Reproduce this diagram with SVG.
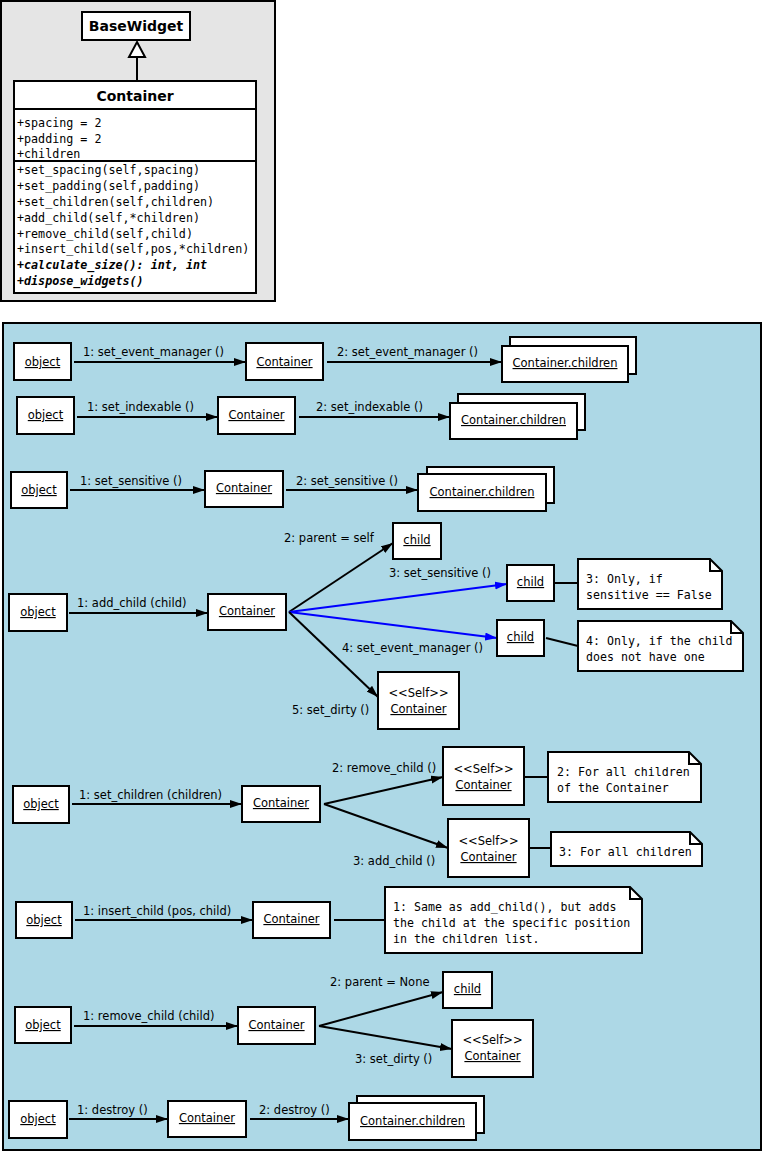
<svg xmlns="http://www.w3.org/2000/svg" width="763" height="1152" viewBox="0 0 763 1152">
<style>
.box{fill:#fff;stroke:#000;stroke-width:2}
.nm{font-family:"DejaVu Sans",sans-serif;font-size:11.5px;text-anchor:middle;fill:#000}
.u{text-decoration:underline}
.lbl{font-family:"DejaVu Sans",sans-serif;font-size:11.5px;fill:#000}
.mono{font-family:"DejaVu Sans Mono",monospace;font-size:11.6px;fill:#000}
.cls{font-family:"DejaVu Sans Mono",monospace;font-size:11.7px;fill:#000}
.bi{font-weight:bold;font-style:italic}
.title{font-family:"DejaVu Sans",sans-serif;font-size:14px;font-weight:bold;text-anchor:middle}
.ln{stroke:#000;stroke-width:2;fill:none}
.arr{stroke:#000;stroke-width:2;fill:none;marker-end:url(#ah)}
.barr{stroke:#0000ff;stroke-width:2;fill:none;marker-end:url(#bh)}
</style>
<defs>
<marker id="ah" markerUnits="userSpaceOnUse" markerWidth="13" markerHeight="9" refX="12" refY="4" orient="auto"><path d="M0,0 L12,4 L0,8 z" fill="#000"/></marker>
<marker id="bh" markerUnits="userSpaceOnUse" markerWidth="13" markerHeight="9" refX="12" refY="4" orient="auto"><path d="M0,0 L12,4 L0,8 z" fill="#0000ff"/></marker>
</defs>

<!-- class diagram panel -->
<rect x="1" y="1" width="274" height="300" fill="#e5e5e5" stroke="#000" stroke-width="2"/>
<g id="basewidget">
<rect class="box" x="82" y="12" width="108" height="28"/>
<text class="title" x="136" y="31">BaseWidget</text>
</g>
<g id="container-class">
<rect class="box" x="14" y="81" width="242" height="212"/>
<line class="ln" x1="14" y1="109" x2="256" y2="109"/>
<line class="ln" x1="14" y1="161" x2="256" y2="161"/>
<text class="title" x="135" y="101">Container</text>
<text class="cls" x="17" y="127">+spacing = 2</text>
<text class="cls" x="17" y="143">+padding = 2</text>
<text class="cls" x="17" y="158">+children</text>
<text class="cls" x="17" y="174">+set_spacing(self,spacing)</text>
<text class="cls" x="17" y="190">+set_padding(self,padding)</text>
<text class="cls" x="17" y="206">+set_children(self,children)</text>
<text class="cls" x="17" y="222">+add_child(self,*children)</text>
<text class="cls" x="17" y="238">+remove_child(self,child)</text>
<text class="cls" x="17" y="253">+insert_child(self,pos,*children)</text>
<text class="cls bi" x="17" y="269">+calculate_size(): int, int</text>
<text class="cls bi" x="17" y="285">+dispose_widgets()</text>
</g>
<g id="inheritance">
<line class="ln" x1="137" y1="57" x2="137" y2="81"/>
<path d="M137,42 L145,57 L129,57 z" fill="#fff" stroke="#000" stroke-width="2"/>
</g>

<!-- collaboration panel -->
<rect x="3" y="323" width="758" height="827" fill="#add8e6" stroke="#000" stroke-width="2"/>

<g id="connectors">
<!-- row1 -->
<line class="arr" x1="74" y1="362" x2="246" y2="362"/>
<line class="arr" x1="327" y1="362" x2="502" y2="362"/>
<!-- row2 -->
<line class="arr" x1="77" y1="417" x2="218" y2="417"/>
<line class="arr" x1="299" y1="417" x2="450" y2="417"/>
<!-- row3 -->
<line class="arr" x1="70" y1="490" x2="205" y2="490"/>
<line class="arr" x1="286" y1="490" x2="418" y2="490"/>
<!-- row4 -->
<line class="arr" x1="69" y1="613" x2="208" y2="613"/>
<line class="arr" x1="289" y1="612" x2="393" y2="543"/>
<line class="barr" x1="289" y1="612" x2="507" y2="584"/>
<line class="barr" x1="289" y1="612" x2="497" y2="638"/>
<line class="arr" x1="289" y1="612" x2="378" y2="697"/>
<line class="ln" x1="554" y1="583" x2="578" y2="583"/>
<line class="ln" x1="546" y1="638" x2="578" y2="646"/>
<!-- row5 -->
<line class="arr" x1="72" y1="804" x2="242" y2="804"/>
<line class="arr" x1="324" y1="804" x2="443" y2="777"/>
<line class="arr" x1="324" y1="804" x2="448" y2="848"/>
<line class="ln" x1="524" y1="777" x2="548" y2="777"/>
<line class="ln" x1="529" y1="848" x2="551" y2="848"/>
<!-- row6 -->
<line class="arr" x1="75" y1="920" x2="253" y2="920"/>
<line class="ln" x1="334" y1="920" x2="385" y2="920"/>
<!-- row7 -->
<line class="arr" x1="74" y1="1026" x2="238" y2="1026"/>
<line class="arr" x1="319" y1="1026" x2="443" y2="992"/>
<line class="arr" x1="319" y1="1026" x2="452" y2="1049"/>
<!-- row8 -->
<line class="arr" x1="69" y1="1119" x2="168" y2="1119"/>
<line class="arr" x1="250" y1="1119" x2="349" y2="1119"/>
</g>

<g id="labels">
<text class="lbl" x="83" y="356">1: set_event_manager ()</text>
<text class="lbl" x="337" y="356">2: set_event_manager ()</text>
<text class="lbl" x="87" y="411">1: set_indexable ()</text>
<text class="lbl" x="316" y="411">2: set_indexable ()</text>
<text class="lbl" x="80" y="485">1: set_sensitive ()</text>
<text class="lbl" x="296" y="485">2: set_sensitive ()</text>
<text class="lbl" x="77" y="607">1: add_child (child)</text>
<text class="lbl" x="284" y="542">2: parent = self</text>
<text class="lbl" x="389" y="577">3: set_sensitive ()</text>
<text class="lbl" x="342" y="652">4: set_event_manager ()</text>
<text class="lbl" x="292" y="714">5: set_dirty ()</text>
<text class="lbl" x="79" y="799">1: set_children (children)</text>
<text class="lbl" x="332" y="772">2: remove_child ()</text>
<text class="lbl" x="353" y="865">3: add_child ()</text>
<text class="lbl" x="83" y="915">1: insert_child (pos, child)</text>
<text class="lbl" x="83" y="1020">1: remove_child (child)</text>
<text class="lbl" x="330" y="986">2: parent = None</text>
<text class="lbl" x="355" y="1063">3: set_dirty ()</text>
<text class="lbl" x="77" y="1114">1: destroy ()</text>
<text class="lbl" x="259" y="1114">2: destroy ()</text>
</g>

<!-- row1 -->
<g id="obj1"><rect class="box" x="14" y="343" width="57" height="37"/><text class="nm u" x="42.5" y="366">object</text></g>
<g id="cont1"><rect class="box" x="246" y="343" width="77" height="37"/><text class="nm u" x="284.5" y="366">Container</text></g>
<g id="children1"><rect class="box" x="510" y="337" width="126" height="37"/><rect class="box" x="502" y="346" width="126" height="36"/><text class="nm u" x="565" y="367">Container.children</text></g>
<!-- row2 -->
<g id="obj2"><rect class="box" x="17" y="397" width="57" height="37"/><text class="nm u" x="45.5" y="419">object</text></g>
<g id="cont2"><rect class="box" x="218" y="397" width="77" height="37"/><text class="nm u" x="256.5" y="419">Container</text></g>
<g id="children2"><rect class="box" x="458" y="394" width="127" height="36"/><rect class="box" x="450" y="403" width="127" height="36"/><text class="nm u" x="513.5" y="424">Container.children</text></g>
<!-- row3 -->
<g id="obj3"><rect class="box" x="11" y="472" width="56" height="36"/><text class="nm u" x="39" y="494">object</text></g>
<g id="cont3"><rect class="box" x="205" y="471" width="78" height="36"/><text class="nm u" x="244" y="492">Container</text></g>
<g id="children3"><rect class="box" x="427" y="467" width="127" height="36"/><rect class="box" x="418" y="474" width="128" height="37"/><text class="nm u" x="482" y="496">Container.children</text></g>
<!-- row4 -->
<g id="obj4"><rect class="box" x="9" y="594" width="58" height="37"/><text class="nm u" x="38" y="616">object</text></g>
<g id="cont4"><rect class="box" x="208" y="594" width="78" height="36"/><text class="nm u" x="247" y="615">Container</text></g>
<g id="child4a"><rect class="box" x="393" y="523" width="48" height="36"/><text class="nm u" x="417" y="544">child</text></g>
<g id="child4b"><rect class="box" x="507" y="565" width="47" height="36"/><text class="nm u" x="530.5" y="586">child</text></g>
<g id="child4c"><rect class="box" x="497" y="620" width="47" height="36"/><text class="nm u" x="520.5" y="641">child</text></g>
<g id="self4"><rect class="box" x="378" y="672" width="81" height="57"/><text class="nm" x="418.5" y="697">&lt;&lt;Self&gt;&gt;</text><text class="nm u" x="418.5" y="713">Container</text></g>
<g id="note4a"><path class="box" d="M578,559 H710 L722,571 V609 H578 Z"/><path class="ln" d="M710,559 V571 H722"/><text class="mono" x="586" y="583">3: Only, if</text><text class="mono" x="586" y="599">sensitive == False</text></g>
<g id="note4b"><path class="box" d="M578,621 H731 L743,633 V671 H578 Z"/><path class="ln" d="M731,621 V633 H743"/><text class="mono" x="586" y="645">4: Only, if the child</text><text class="mono" x="586" y="661">does not have one</text></g>
<!-- row5 -->
<g id="obj5"><rect class="box" x="13" y="786" width="56" height="37"/><text class="nm u" x="41" y="808">object</text></g>
<g id="cont5"><rect class="box" x="242" y="786" width="78" height="36"/><text class="nm u" x="281" y="807">Container</text></g>
<g id="self5a"><rect class="box" x="443" y="747" width="81" height="58"/><text class="nm" x="483.5" y="773">&lt;&lt;Self&gt;&gt;</text><text class="nm u" x="483.5" y="789">Container</text></g>
<g id="self5b"><rect class="box" x="448" y="819" width="81" height="58"/><text class="nm" x="488.5" y="845">&lt;&lt;Self&gt;&gt;</text><text class="nm u" x="488.5" y="861">Container</text></g>
<g id="note5a"><path class="box" d="M548,752 H689 L701,764 V802 H548 Z"/><path class="ln" d="M689,752 V764 H701"/><text class="mono" x="557" y="776">2: For all children</text><text class="mono" x="557" y="792">of the Container</text></g>
<g id="note5b"><path class="box" d="M551,832 H690 L702,844 V866 H551 Z"/><path class="ln" d="M690,832 V844 H702"/><text class="mono" x="559" y="856">3: For all children</text></g>
<!-- row6 -->
<g id="obj6"><rect class="box" x="16" y="902" width="56" height="36"/><text class="nm u" x="44" y="924">object</text></g>
<g id="cont6"><rect class="box" x="253" y="902" width="77" height="36"/><text class="nm u" x="291.5" y="923">Container</text></g>
<g id="note6"><path class="box" d="M385,887 H630 L642,899 V953 H385 Z"/><path class="ln" d="M630,887 V899 H642"/><text class="mono" x="393" y="911">1: Same as add_child(), but adds</text><text class="mono" x="393" y="927">the child at the specific position</text><text class="mono" x="393" y="943">in the children list.</text></g>
<!-- row7 -->
<g id="obj7"><rect class="box" x="15" y="1007" width="56" height="36"/><text class="nm u" x="43" y="1029">object</text></g>
<g id="cont7"><rect class="box" x="238" y="1007" width="77" height="37"/><text class="nm u" x="276.5" y="1029">Container</text></g>
<g id="child7"><rect class="box" x="443" y="972" width="49" height="36"/><text class="nm u" x="467.5" y="993">child</text></g>
<g id="self7"><rect class="box" x="452" y="1020" width="81" height="57"/><text class="nm" x="492.5" y="1044">&lt;&lt;Self&gt;&gt;</text><text class="nm u" x="492.5" y="1060">Container</text></g>
<!-- row8 -->
<g id="obj8"><rect class="box" x="9" y="1101" width="58" height="37"/><text class="nm u" x="38" y="1123">object</text></g>
<g id="cont8"><rect class="box" x="168" y="1101" width="78" height="36"/><text class="nm u" x="207" y="1122">Container</text></g>
<g id="children8"><rect class="box" x="357" y="1096" width="127" height="37"/><rect class="box" x="349" y="1103" width="127" height="37"/><text class="nm u" x="412.5" y="1125">Container.children</text></g>
</svg>
